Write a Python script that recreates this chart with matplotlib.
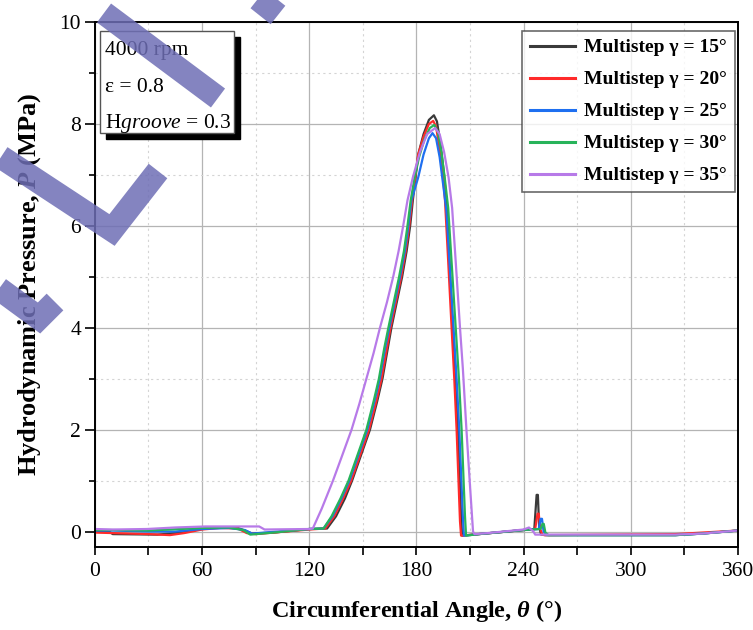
import matplotlib
matplotlib.use("Agg")
import matplotlib.pyplot as plt
from matplotlib.lines import Line2D
from matplotlib.patches import Rectangle
from matplotlib.ticker import MultipleLocator

plt.rcParams['font.family'] = ['Liberation Serif', 'DejaVu Serif']
plt.rcParams['mathtext.fontset'] = 'custom'
plt.rcParams['mathtext.rm'] = 'Liberation Serif'
plt.rcParams['mathtext.it'] = 'Liberation Serif:italic'
plt.rcParams['mathtext.bf'] = 'Liberation Serif:bold'
plt.rcParams['mathtext.bfit'] = 'Liberation Serif:bold:italic'

# circumferential angle (deg) and pressure (MPa) for each groove angle
theta_15 = [0, 8, 10, 35, 45, 60, 65, 80, 84, 88, 100, 120, 130, 135, 140, 144, 150, 154, 158, 161,
            164, 166, 169, 172, 174.5, 176.5, 178, 181, 184, 187, 189.8, 191.5, 193.5, 195.5, 197, 198.5,
            200.2, 202, 203.5, 205, 205.6, 215, 240, 246, 247.3, 248, 248.7, 249.8, 252, 325, 340, 360]
p_15 = [0, 0, -0.05, -0.06, -0.03, 0.05, 0.08, 0.07, 0.02, -0.04, -0.02, 0.05, 0.06, 0.3, 0.65, 1.0, 1.6, 2.0, 2.55, 3.0,
        3.6, 4.0, 4.5, 5.0, 5.5, 6.0, 6.5, 7.4, 7.8, 8.08, 8.17, 8.05, 7.6, 7.0, 6.4, 5.3,
        4.0, 2.8, 1.8, 0.3, -0.08, -0.05, 0.03, 0.05, 0.72, 0.72, 0.1, -0.06, -0.07, -0.07, -0.04, 0.02]

theta_20 = [0, 10, 30, 42, 50, 60, 70, 80, 85, 90, 120, 129, 134, 139, 143.5, 149.5, 153.5, 157.5, 160.5, 163.5,
            165.5, 168.5, 171.5, 174, 176, 177.6, 181, 184, 187, 189.4, 191, 193, 194.8, 196, 197.8, 199.7,
            201.2, 202.5, 204.4, 205, 215, 240, 246.5, 247.8, 248.5, 249.3, 250.5, 252, 325, 340, 360]
p_20 = [-0.02, -0.03, -0.05, -0.07, -0.03, 0.04, 0.07, 0.06, -0.03, -0.05, 0.04, 0.06, 0.3, 0.65, 1.0, 1.6, 2.0, 2.55, 3.0, 3.6,
        4.0, 4.5, 5.0, 5.5, 6.0, 6.5, 7.4, 7.75, 8.0, 8.06, 7.95, 7.5, 7.0, 6.5, 5.3, 4.0,
        3.0, 2.0, 0.2, -0.08, -0.05, 0.03, 0.05, 0.35, 0.35, 0.05, -0.06, -0.07, -0.05, -0.02, 0.02]

theta_25 = [0, 10, 30, 45, 60, 75, 84, 88, 120, 128, 133, 138, 142.5, 148.5, 152.5, 156.5, 159.5, 162.5, 164.8, 167.8,
            170.8, 173.5, 175.5, 177.2, 181, 184, 187, 189, 191, 193, 195, 196.8, 198.5, 200.8, 202.5, 204,
            206, 206.6, 215, 240, 248.5, 249.5, 250.3, 251.2, 253, 325, 340, 360]
p_25 = [0.02, 0.02, 0.0, 0.0, 0.05, 0.07, 0.03, -0.04, 0.05, 0.06, 0.3, 0.65, 1.0, 1.6, 2.0, 2.55, 3.0, 3.6, 4.0, 4.5,
        5.0, 5.5, 6.0, 6.5, 6.95, 7.4, 7.72, 7.82, 7.72, 7.35, 6.8, 6.3, 5.3, 4.0, 3.0, 2.0,
        0.3, -0.08, -0.05, 0.03, 0.05, 0.25, 0.25, 0.0, -0.07, -0.07, -0.04, 0.02]

theta_30 = [0, 10, 30, 60, 75, 83, 87, 100, 120, 128, 132.5, 137.5, 142, 148, 152, 156, 159, 162, 164.3, 167.3,
            170.3, 173, 175, 176.8, 179, 181.5, 184.5, 187.5, 190, 192, 194, 196, 197.8, 199.5, 202, 203.8, 205.3,
            207.2, 207.8, 215, 240, 249.5, 250.6, 251.3, 252.2, 254, 325, 340, 360]
p_30 = [0.03, 0.03, 0.02, 0.07, 0.08, 0.03, -0.06, -0.02, 0.05, 0.06, 0.3, 0.65, 1.0, 1.6, 2.0, 2.55, 3.0, 3.6, 4.0, 4.5,
        5.0, 5.5, 6.0, 6.5, 6.95, 7.35, 7.7, 7.92, 7.98, 7.85, 7.45, 6.9, 6.35, 5.4, 4.0, 3.0, 2.0,
        0.3, -0.08, -0.05, 0.03, 0.05, 0.15, 0.15, -0.02, -0.07, -0.07, -0.04, 0.02]

theta_35 = [0, 10, 29, 45, 62, 92, 95, 120, 122, 127, 133.3, 138, 143.7, 148, 152, 156, 159.6, 163.5, 167, 170,
            172.6, 175, 178, 182, 186, 190.5, 193, 195.5, 198, 200, 202, 204.4, 206, 208, 210, 211.7,
            212.5, 220, 240, 243, 245.5, 246.5, 325, 340, 360]
p_35 = [0.05, 0.04, 0.05, 0.08, 0.1, 0.1, 0.04, 0.05, 0.06, 0.45, 1.0, 1.45, 2.0, 2.5, 3.0, 3.5, 4.0, 4.5, 5.0, 5.5,
        6.0, 6.5, 6.95, 7.45, 7.8, 7.92, 7.8, 7.45, 6.95, 6.35, 5.3, 4.0, 3.2, 2.0, 0.9, 0.0,
        -0.05, -0.03, 0.04, 0.08, 0.0, -0.06, -0.06, -0.04, 0.02]

labels = ['Multistep γ = 15°', 'Multistep γ = 20°', 'Multistep γ = 25°',
          'Multistep γ = 30°', 'Multistep γ = 35°']
colors = ['#3a3a3a', '#ff2a2a', '#1e6ff0', '#27b35a', '#b77ae8']
series = [(theta_15, p_15), (theta_20, p_20), (theta_25, p_25), (theta_30, p_30), (theta_35, p_35)]

fig = plt.figure(figsize=(7.53, 6.30), dpi=100)
ax = fig.add_axes([0.126, 0.132, 0.854, 0.833])

for (t, p), lab, c in zip(series, labels, colors):
    ax.plot(t, p, color=c, lw=1.6, label=lab)

ax.set_xlim(0, 360)
ax.set_ylim(-0.3, 10)
ax.xaxis.set_major_locator(MultipleLocator(60))
ax.xaxis.set_minor_locator(MultipleLocator(30))
ax.yaxis.set_major_locator(MultipleLocator(2))
ax.yaxis.set_minor_locator(MultipleLocator(1))
ax.grid(which='major', color='#b4b4b4', lw=0.9)
ax.grid(which='minor', color='#d4d4d4', lw=0.8, ls=(0, (2, 3)))
ax.set_axisbelow(True)
ax.tick_params(axis='both', which='both', direction='out', labelsize=15.5, width=1.2)
ax.tick_params(axis='x', which='major', length=6, pad=5)
ax.tick_params(axis='x', which='minor', length=6)
ax.tick_params(axis='y', which='major', length=7, pad=3)
ax.tick_params(axis='y', which='minor', length=4)
for s in ax.spines.values():
    s.set_linewidth(1.4)
    s.set_color('black')

ax.set_xlabel(r'Circumferential Angle, $\mathbfit{\theta}$ (°)', fontsize=17.5, fontweight='bold', labelpad=12)
ax.set_ylabel(r'Hydrodynamic Pressure, $\mathbfit{P}$ (MPa)', fontsize=19, fontweight='bold', labelpad=12)

leg = ax.legend(loc='upper right', bbox_to_anchor=(0.9953, 0.983),
                prop={'weight': 'bold', 'size': 14}, frameon=True, fancybox=False,
                edgecolor='#444444', handlelength=2.3, labelspacing=0.74, borderpad=0.4,
                handletextpad=0.5, borderaxespad=0)
leg.get_frame().set_linewidth(1.2)
for h in leg.get_lines():
    h.set_linewidth(2.2)

# condition box with drop shadow
ax.add_patch(Rectangle((0.0173, 0.7776), 0.208, 0.194, transform=ax.transAxes,
                       facecolor='black', edgecolor='black', zorder=5))
ax.add_patch(Rectangle((0.008, 0.789), 0.208, 0.194, transform=ax.transAxes,
                       facecolor='white', edgecolor='#555555', lw=1.0, zorder=6))
ax.text(0.015, 0.945, '4000 rpm', transform=ax.transAxes, fontsize=15.5, va='center', zorder=7)
ax.text(0.015, 0.876, 'ε = 0.8', transform=ax.transAxes, fontsize=15.5, va='center', zorder=7)
ax.text(0.015, 0.806, r'H$\mathit{groove}$ = 0.3', transform=ax.transAxes, fontsize=15.5, va='center', zorder=7)

# watermark stripes (image pixel coords)
W, H = 753, 630
stripes = [
    [(104, 13), (218, 98)],
    [(244, -12), (278, 15)],
    [(1, 157), (112, 230), (158, 171)],
    [(-6, 285), (39, 318), (55, 302)],
]
for pts in stripes:
    xs = [x / W for x, y in pts]
    ys = [1 - y / H for x, y in pts]
    fig.add_artist(Line2D(xs, ys, transform=fig.transFigure, lw=17, color='#6e6eb5',
                          alpha=0.85, solid_capstyle='butt', solid_joinstyle='miter', zorder=20))

fig.savefig('out.png', dpi=100)
